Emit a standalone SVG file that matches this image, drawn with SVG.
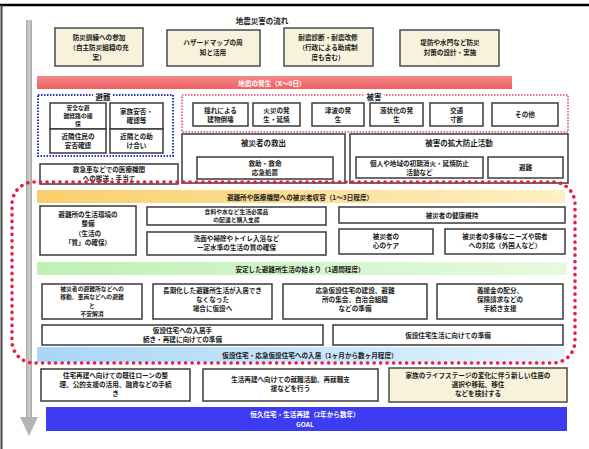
<svg xmlns="http://www.w3.org/2000/svg" width="589" height="449" viewBox="0 0 589 449">
<defs>
<linearGradient id="gRed" x1="0" y1="0" x2="0" y2="1"><stop offset="0" stop-color="#f4898a"/><stop offset="1" stop-color="#ee5f62"/></linearGradient>
<linearGradient id="gYel" x1="0" y1="0" x2="1" y2="0"><stop offset="0" stop-color="#f9cf6a"/><stop offset="1" stop-color="#fdf0c4"/></linearGradient>
<linearGradient id="gGrn" x1="0" y1="0" x2="1" y2="0"><stop offset="0" stop-color="#bff0b4"/><stop offset="1" stop-color="#e6fae0"/></linearGradient>
<linearGradient id="gBlu" x1="0" y1="0" x2="1" y2="0"><stop offset="0" stop-color="#a9d6f6"/><stop offset="1" stop-color="#e4f3fd"/></linearGradient>
<linearGradient id="gArr" x1="0" y1="0" x2="1" y2="0"><stop offset="0" stop-color="#a8a8a8"/><stop offset="0.5" stop-color="#d0d0d0"/><stop offset="1" stop-color="#a8a8a8"/></linearGradient>
</defs>
<style>
text{font-family:"Noto Sans CJK JP","Noto Sans CJK SC",sans-serif;font-size:6.6px;font-weight:bold;fill:#1a1a1a;text-anchor:middle}
.box{fill:#ffffff;stroke:#3a3a3a;stroke-width:1.5}
.cream{fill:#f8f2dc;stroke:#4a4a4a;stroke-width:1.5}
.sm{font-size:5.8px}
.wt{fill:#ffffff}
.lbl{font-size:7.5px}
.dotB{fill:none;stroke:#2436c8;stroke-width:2;stroke-dasharray:1.5 1.5}
.dotR{fill:none;stroke:#e84868;stroke-width:1.6;stroke-dasharray:1.5 1.5}
.dotBig{fill:none;stroke:#e51e48;stroke-width:3.6;stroke-dasharray:0.1 6.4;stroke-linecap:round}
</style>
<rect width="589" height="449" fill="#ffffff"/>
<line x1="0" y1="5" x2="589" y2="5" stroke="#000" stroke-width="2.5"/>
<line x1="1.5" y1="5" x2="1.5" y2="449" stroke="#444" stroke-width="2"/>

<g id="connectors">
<rect x="26" y="20" width="6" height="398" fill="url(#gArr)"/>
<polygon points="20,417 38,417 29,436" fill="#b4b4b4"/>
</g>

<g id="title"><text x="262" y="24" class="lbl">地震災害の流れ</text></g>

<g id="top1"><rect class="cream" x="55" y="28" width="88" height="38"/><text x="99" y="40">防災訓練への参加</text><text x="99" y="50">（自主防災組織の充</text><text x="99" y="60">実）</text></g>
<g id="top2"><rect class="cream" x="167" y="30" width="93" height="36"/><text x="213" y="45">ハザードマップの周</text><text x="213" y="55">知と活用</text></g>
<g id="top3"><rect class="cream" x="284" y="28" width="89" height="38"/><text x="328" y="40">耐震診断・耐震改修</text><text x="328" y="50">（行政による助成制</text><text x="328" y="60">度も含む）</text></g>
<g id="top4"><rect class="cream" x="400" y="30" width="99" height="36"/><text x="450" y="45">堤防や水門など防災</text><text x="450" y="55">対策の設計・実施</text></g>

<g id="bar-quake"><rect x="37" y="76" width="475" height="13" fill="url(#gRed)"/><text x="272" y="85.5" class="wt">地震の発生（X～0日）</text></g>

<g id="evac">
<rect class="dotB" x="38" y="95" width="135" height="61"/>
<rect x="93" y="93" width="20" height="6" fill="#fff"/>
<text x="103" y="99.5" class="lbl">避難</text>
<rect class="box" x="50" y="103" width="56" height="26"/><text x="78" y="110" class="sm">安全な避</text><text x="78" y="118" class="sm">難経路の確</text><text x="78" y="126" class="sm">保</text>
<rect class="box" x="110" y="103" width="53" height="26"/><text x="136.5" y="114">家族安否・</text><text x="136.5" y="123">確認等</text>
<rect class="box" x="50" y="129" width="56" height="24"/><text x="78" y="139">近隣住民の</text><text x="78" y="148">安否確認</text>
<rect class="box" x="110" y="129" width="53" height="24"/><text x="136.5" y="139">近隣との助</text><text x="136.5" y="148">け合い</text>
</g>

<g id="damage">
<rect class="dotR" x="182" y="95" width="386" height="37"/>
<rect x="364" y="93" width="20" height="6" fill="#fff"/>
<text x="374" y="99.5" class="lbl">被害</text>
<rect class="box" x="193" y="103" width="55" height="23"/><text x="220.5" y="112.5">揺れによる</text><text x="220.5" y="121.5">建物倒壊</text>
<rect class="box" x="253" y="103" width="47" height="23"/><text x="276.5" y="112.5">火災の発</text><text x="276.5" y="121.5">生・延焼</text>
<rect class="box" x="312" y="103" width="52" height="23"/><text x="338" y="112.5">津波の発</text><text x="338" y="121.5">生</text>
<rect class="box" x="370" y="103" width="53" height="23"/><text x="396.5" y="112.5">液状化の発</text><text x="396.5" y="121.5">生</text>
<rect class="box" x="430" y="103" width="53" height="23"/><text x="456.5" y="112.5">交通</text><text x="456.5" y="121.5">寸断</text>
<rect class="box" x="492" y="103" width="66" height="23"/><text x="525" y="117">その他</text>
</g>

<g id="rescue">
<rect class="box" x="182" y="134" width="163" height="49"/><text x="263.5" y="146" class="lbl">被災者の救出</text>
<rect class="box" x="197" y="157" width="136" height="22"/><text x="265" y="166">救助・救命</text><text x="265" y="175">応急処置</text>
</g>
<g id="spread">
<rect class="box" x="350" y="134" width="218" height="49"/><text x="459" y="146" class="lbl">被害の拡大防止活動</text>
<rect class="box" x="356" y="157" width="127" height="21"/><text x="419.5" y="165.5">個人や地域の初期消火・延焼防止</text><text x="419.5" y="174.5">活動など</text>
<rect class="box" x="488" y="157" width="75" height="21"/><text x="525.5" y="170">避難</text>
</g>
<g id="ambulance"><rect class="box" x="40" y="164" width="138" height="20"/><text x="109" y="172">救急車などでの医療機関</text><text x="109" y="180.5">への搬送・手当て</text></g>

<g id="phase1">
<rect x="37" y="190" width="528" height="13" fill="url(#gYel)"/><text x="300" y="199.5">避難所や医療機関への被災者収容（1～3日程度）</text>
<rect class="box" x="40" y="206" width="96" height="49"/><text x="88" y="217">避難所の生活環境の</text><text x="88" y="226">整備</text><text x="88" y="236">（生活の</text><text x="88" y="245">「質」の確保）</text>
<rect class="box" x="147" y="207" width="179" height="18"/><text x="236.5" y="214" class="sm">食料や水など生活必需品</text><text x="236.5" y="222" class="sm">の配達と購入支援</text>
<rect class="box" x="147" y="232" width="179" height="23"/><text x="236.5" y="241">洗面や掃除やトイレ入浴など</text><text x="236.5" y="250">一定水準の生活の質の確保</text>
<rect class="box" x="339" y="207" width="226" height="16"/><text x="452" y="217.5">被災者の健康維持</text>
<rect class="box" x="339" y="229" width="94" height="25"/><text x="386" y="239">被災者の</text><text x="386" y="248">心のケア</text>
<rect class="box" x="445" y="229" width="120" height="25"/><text x="505" y="239">被災者の多様なニーズや弱者</text><text x="505" y="248">への対応（外国人など）</text>
</g>

<g id="phase2">
<rect x="37" y="262" width="530" height="13" fill="url(#gGrn)"/><text x="300" y="271.5">安定した避難所生活の始まり（1週間程度）</text>
<rect class="box" x="42" y="284" width="100" height="35"/><text x="92" y="291" class="sm">被災者の避難所などへの</text><text x="92" y="299" class="sm">移動、車両などへの避難</text><text x="92" y="307.5" class="sm">と</text><text x="92" y="316" class="sm">不安解消</text>
<rect class="box" x="153" y="284" width="119" height="35"/><text x="212.5" y="293">長期化した避難所生活が入居でき</text><text x="212.5" y="302">なくなった</text><text x="212.5" y="311">場合に仮設へ</text>
<rect class="box" x="283" y="284" width="144" height="35"/><text x="355" y="293">応急仮設住宅の建設、避難</text><text x="355" y="302">所の集会、自治会組織</text><text x="355" y="311">などの準備</text>
<rect class="box" x="437" y="284" width="126" height="35"/><text x="500" y="293">義援金の配分、</text><text x="500" y="302">保険請求などの</text><text x="500" y="311">手続き支援</text>
<rect class="box" x="42" y="325" width="281" height="20"/><text x="182.5" y="333">仮設住宅への入居手</text><text x="182.5" y="342">続き・再建に向けての準備</text>
<rect class="box" x="333" y="325" width="230" height="20"/><text x="448" y="338">仮設住宅生活に向けての準備</text>
</g>

<g id="phase3"><rect x="37" y="347" width="528" height="15" fill="url(#gBlu)"/><text x="310" y="357.5">仮設住宅・応急仮設住宅への入居（1ヶ月から数ヶ月程度）</text></g>

<g id="recovery-zone"><rect class="dotBig" x="12" y="182" width="563" height="181" rx="22" ry="22"/></g>

<g id="bottom1"><rect class="box" x="41" y="369" width="149" height="32"/><text x="115.5" y="378">住宅再建へ向けての既往ローンの整</text><text x="115.5" y="387">理、公的支援の活用、融資などの手続</text><text x="115.5" y="396">き</text></g>
<g id="bottom2"><rect class="box" x="203" y="369" width="175" height="32"/><text x="290.5" y="382">生活再建へ向けての就職活動、再就職支</text><text x="290.5" y="391">援などを行う</text></g>
<g id="bottom3"><rect class="cream" x="389" y="368" width="178" height="34"/><text x="478" y="378">家族のライフステージの変化に伴う新しい住居の</text><text x="478" y="387">選択や移転、移住</text><text x="478" y="396">などを検討する</text></g>

<g id="goal"><rect x="46" y="407" width="521" height="24" fill="#3c3cf2"/><text x="305" y="417" class="wt">恒久住宅・生活再建（2年から数年）</text><text x="305" y="427" class="wt">GOAL</text></g>
</svg>
